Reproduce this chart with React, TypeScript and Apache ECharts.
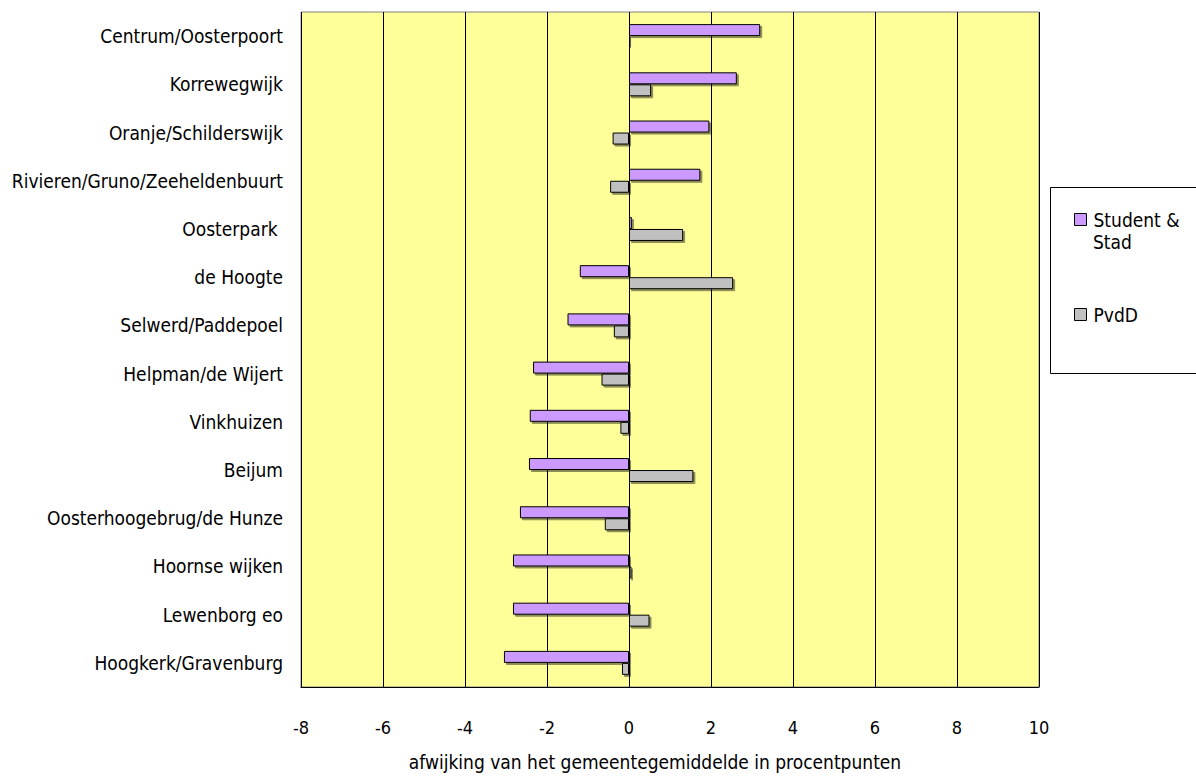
import React, { useEffect, useRef } from "react";
import * as echarts from "echarts";

const categories = [
  "Centrum/Oosterpoort",
  "Korrewegwijk",
  "Oranje/Schilderswijk",
  "Rivieren/Gruno/Zeeheldenbuurt",
  "Oosterpark ",
  "de Hoogte",
  "Selwerd/Paddepoel",
  "Helpman/de Wijert",
  "Vinkhuizen",
  "Beijum",
  "Oosterhoogebrug/de Hunze",
  "Hoornse wijken",
  "Lewenborg eo",
  "Hoogkerk/Gravenburg",
];
const studentStad = [3.2, 2.63, 1.96, 1.74, 0.07, -1.2, -1.5, -2.34, -2.42, -2.44, -2.66, -2.83, -2.83, -3.05];
const pvdd = [0.04, 0.54, -0.4, -0.46, 1.32, 2.54, -0.37, -0.67, -0.21, 1.57, -0.59, 0.06, 0.5, -0.17];
const seriesNames = ["Student & Stad", "PvdD"];
const xTicks = { min: -8, max: 10, interval: 2 };

const FONT = "'DejaVu Sans Condensed', 'Liberation Sans Narrow', 'DejaVu Sans', sans-serif";

export default function App() {
  const ref = useRef<HTMLDivElement>(null);
  useEffect(() => {
    if (!ref.current) return;
    const chart = echarts.init(ref.current, null, { renderer: "svg" });
    const barStyle = (color: string) => ({
      color,
      borderColor: "#000",
      borderWidth: 1,
      shadowColor: "rgba(0,0,0,0.45)",
      shadowOffsetX: 2,
      shadowOffsetY: 2,
      shadowBlur: 0,
    });
    const legendBase = {
      orient: "vertical",
      left: 1069,
      itemWidth: 12,
      itemHeight: 12,
      icon: "rect",
      itemStyle: { borderColor: "#000", borderWidth: 1, shadowBlur: 0, shadowOffsetX: 0, shadowOffsetY: 0 },
    };
    chart.setOption({
      animation: false,
      textStyle: { fontFamily: FONT, color: "#000" },
      grid: {
        left: 301,
        right: 157,
        top: 12,
        bottom: 85,
        show: true,
        backgroundColor: "#FFFF99",
        borderColor: "#808080",
        borderWidth: 1,
      },
      legend: [
        {
          ...legendBase,
          top: 205,
          data: [seriesNames[0]],
          formatter: () => "Student &",
          textStyle: { fontFamily: FONT, fontSize: 19, color: "#000", padding: [0, 0, 0, 2] },
        },
        {
          ...legendBase,
          top: 300,
          data: [seriesNames[1]],
          textStyle: { fontFamily: FONT, fontSize: 19, color: "#000", padding: [0, 0, 0, 2] },
        },
      ],
      graphic: [
        {
          type: "rect",
          shape: { x: 1050.5, y: 187.5, width: 160, height: 186 },
          style: { fill: "#fff", stroke: "#000", lineWidth: 1 },
          z: -1,
        },
        {
          type: "text",
          x: 1093,
          y: 242,
          style: { text: "Stad", font: `19px ${FONT}`, fill: "#000", verticalAlign: "middle", align: "left" },
        },
      ],
      xAxis: {
        type: "value",
        min: xTicks.min,
        max: xTicks.max,
        interval: xTicks.interval,
        name: "afwijking van het gemeentegemiddelde in procentpunten",
        nameLocation: "middle",
        nameGap: 65,
        nameTextStyle: { fontFamily: FONT, fontSize: 19, color: "#000", padding: [0, 30, 0, 0] },
        axisLine: { show: true, onZero: false, lineStyle: { color: "#000", width: 1 } },
        axisTick: { show: false },
        axisLabel: { fontFamily: FONT, fontSize: 18, color: "#000", margin: 31 },
        splitLine: { show: true, lineStyle: { color: "#000", width: 1 } },
      },
      yAxis: {
        type: "category",
        data: categories,
        inverse: true,
        axisLine: { show: false },
        axisTick: { show: false },
        axisLabel: { fontFamily: FONT, fontSize: 19, color: "#000", margin: 18 },
        splitLine: { show: false },
      },
      series: [
        {
          name: seriesNames[0],
          type: "bar",
          data: studentStad,
          barWidth: 12,
          barGap: "0%",
          itemStyle: barStyle("#CC99FF"),
        },
        {
          name: seriesNames[1],
          type: "bar",
          data: pvdd,
          barWidth: 12,
          barGap: "0%",
          itemStyle: barStyle("#C0C0C0"),
        },
      ],
    });
    return () => chart.dispose();
  }, []);
  return <div ref={ref} style={{ width: 1196, height: 776, position: "absolute", left: 0, top: 0 }} />;
}
